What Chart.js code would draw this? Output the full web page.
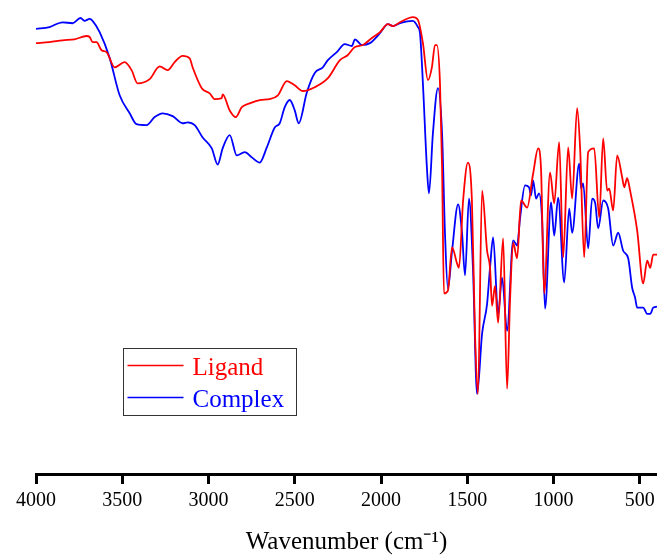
<!DOCTYPE html>
<html>
<head>
<meta charset="utf-8">
<script src="https://cdn.jsdelivr.net/npm/chart.js@4/dist/chart.umd.min.js"></script>
<style>
  html, body { margin: 0; padding: 0; background: #fff; }
  #wrap { width: 657px; height: 558px; position: relative; }
</style>
</head>
<body>
<div id="wrap"><canvas id="myChart"></canvas></div>
<script>
// IR spectra, wavenumber (cm-1) vs transmittance (arbitrary %)
const ligandWn = [4000, 3922, 3846, 3777, 3707, 3689, 3672, 3649, 3620, 3591, 3544, 3486, 3446, 3411, 3341, 3283, 3237, 3196, 3150, 3109, 3092, 3039, 2993, 2964, 2923, 2918, 2877, 2842, 2807, 2761, 2703, 2645, 2598, 2546, 2500, 2453, 2384, 2308, 2238, 2192, 2151, 2105, 2053, 2006, 1960, 1931, 1890, 1815, 1786, 1757, 1728, 1705, 1687, 1676, 1658, 1646, 1635, 1612, 1588, 1559, 1548, 1524, 1496, 1473, 1455, 1438, 1414, 1385, 1368, 1356, 1339, 1321, 1292, 1269, 1252, 1234, 1211, 1188, 1153, 1118, 1089, 1072, 1054, 1020, 996, 967, 944, 915, 892, 863, 846, 822, 799, 764, 735, 712, 689, 677, 654, 631, 602, 590, 573, 556, 515, 480, 457, 439, 422, 400];
const ligandT = [90.9, 91.1, 91.5, 91.7, 92.4, 92.2, 91.1, 91.1, 89.4, 89.0, 85.8, 86.9, 85.2, 82.4, 83.3, 86.0, 85.2, 86.9, 88.2, 87.7, 85.8, 81.4, 80.3, 79.1, 79.3, 80.1, 76.7, 75.3, 77.4, 78.2, 78.9, 79.1, 79.9, 82.9, 82.0, 80.8, 81.6, 83.5, 87.3, 88.4, 90.1, 90.5, 92.0, 93.2, 94.9, 94.5, 95.3, 96.4, 95.8, 90.9, 83.1, 85.8, 90.5, 90.5, 82.4, 64.7, 38.1, 38.7, 47.8, 44.4, 43.5, 57.7, 65.7, 57.7, 29.6, 16.9, 59.8, 47.1, 43.5, 35.5, 39.7, 31.9, 49.7, 18.0, 36.6, 48.8, 45.5, 57.7, 56.2, 63.4, 68.7, 64.1, 38.1, 63.6, 57.1, 70.0, 45.7, 68.9, 58.1, 77.2, 68.9, 45.7, 67.9, 68.7, 54.1, 70.8, 59.8, 60.2, 55.6, 67.2, 62.6, 60.5, 62.4, 59.8, 51.4, 40.2, 45.0, 43.5, 46.3, 46.3];

const complexWn = [4000, 3922, 3846, 3788, 3742, 3719, 3689, 3672, 3631, 3574, 3515, 3457, 3417, 3359, 3312, 3266, 3208, 3150, 3121, 3080, 3034, 2981, 2947, 2918, 2877, 2836, 2790, 2749, 2703, 2662, 2616, 2587, 2558, 2529, 2500, 2477, 2430, 2384, 2337, 2308, 2256, 2210, 2169, 2151, 2111, 2064, 2006, 1960, 1931, 1890, 1815, 1786, 1774, 1757, 1734, 1722, 1699, 1670, 1646, 1629, 1612, 1588, 1553, 1530, 1513, 1490, 1467, 1443, 1414, 1385, 1368, 1350, 1321, 1298, 1269, 1234, 1211, 1194, 1165, 1142, 1130, 1118, 1101, 1084, 1066, 1049, 1014, 996, 973, 938, 909, 892, 851, 840, 828, 799, 776, 758, 741, 712, 683, 654, 625, 596, 567, 544, 527, 515, 480, 457, 439, 422, 400];
const complexT = [93.9, 94.3, 95.3, 95.1, 96.2, 95.6, 96.0, 95.6, 93.2, 87.9, 79.9, 76.1, 73.8, 73.6, 75.3, 76.1, 75.5, 74.0, 74.2, 73.6, 71.0, 68.7, 65.3, 68.7, 71.5, 67.2, 67.9, 66.8, 65.7, 68.9, 73.1, 74.0, 77.4, 78.9, 76.7, 74.0, 80.5, 84.6, 85.8, 87.3, 89.0, 90.7, 90.3, 91.7, 90.5, 90.9, 93.0, 94.9, 94.5, 95.1, 95.6, 94.3, 93.0, 82.4, 64.7, 59.2, 71.9, 81.4, 71.9, 50.7, 39.1, 47.1, 56.9, 50.7, 41.9, 58.1, 43.5, 16.9, 29.6, 35.9, 43.5, 49.9, 33.8, 41.4, 30.2, 49.3, 48.2, 53.9, 60.9, 60.5, 58.8, 61.9, 58.1, 59.2, 53.5, 34.9, 57.3, 50.3, 58.3, 40.4, 56.0, 50.9, 65.5, 60.2, 61.3, 47.6, 58.1, 57.1, 51.8, 57.7, 56.0, 48.2, 50.9, 47.1, 45.5, 39.3, 37.2, 35.1, 35.1, 33.8, 33.8, 35.1, 35.3];

const xTicks = [4000, 3500, 3000, 2500, 2000, 1500, 1000, 500];
const seriesNames = ['Ligand', 'Complex'];
const seriesColors = ['#ff0000', '#0000ff'];
const xTitle = 'Wavenumber (cm\u207B\u00B9)';

const serif = "'Times New Roman', 'Liberation Serif', serif";

const toPoints = (wn, t) => wn.map((w, i) => ({ x: w, y: t[i] }));

const data = {
    datasets: [
        {
            label: seriesNames[0],
            data: toPoints(ligandWn, ligandT),
            borderColor: seriesColors[0],
            backgroundColor: seriesColors[0],
            borderWidth: 1.8,
            pointRadius: 0,
            cubicInterpolationMode: 'monotone'
        },
        {
            label: seriesNames[1],
            data: toPoints(complexWn, complexT),
            borderColor: seriesColors[1],
            backgroundColor: seriesColors[1],
            borderWidth: 1.8,
            pointRadius: 0,
            cubicInterpolationMode: 'monotone'
        }
    ]
};

// legend box drawn inside the plot, like the original figure
const boxLegend = {
    id: 'boxLegend',
    afterDraw(chart) {
        const ctx = chart.ctx;
        const left = 123.5, top = 348.5, w = 173, h = 67;
        ctx.save();
        ctx.strokeStyle = '#333';
        ctx.lineWidth = 1;
        ctx.strokeRect(left, top, w, h);
        ctx.font = '25px ' + serif;
        ctx.textBaseline = 'alphabetic';
        chart.data.datasets.forEach((ds, i) => {
            const y = top + 17 + i * 32;
            ctx.strokeStyle = ds.borderColor;
            ctx.lineWidth = 1.6;
            ctx.beginPath();
            ctx.moveTo(left + 4, y);
            ctx.lineTo(left + 60, y);
            ctx.stroke();
            ctx.fillStyle = ds.borderColor;
            ctx.fillText(ds.label, left + 69, y + 9);
        });
        ctx.restore();
    }
};

const config = {
    type: 'line',
    data: data,
    options: {
        responsive: true,
        maintainAspectRatio: false,
        animation: false,
        layout: { padding: { left: 36, right: 0, top: 0, bottom: 1 } },
        plugins: {
            legend: { display: false },
            tooltip: { enabled: false }
        },
        scales: {
            x: {
                type: 'linear',
                reverse: true,
                min: 400,
                max: 4000,
                afterBuildTicks: (scale) => {
                    scale.ticks = xTicks.map(v => ({ value: v }));
                },
                afterFit: (scale) => {
                    // labels fit inside, no extra side padding wanted
                    scale.paddingLeft = 0;
                    scale.paddingRight = 0;
                },
                border: { display: true, color: '#000', width: 3 },
                grid: {
                    display: true,
                    drawOnChartArea: false,
                    drawTicks: true,
                    tickLength: 10,
                    tickWidth: 3,
                    tickColor: '#000'
                },
                ticks: {
                    autoSkip: false,
                    padding: 5,
                    color: '#000',
                    maxRotation: 0,
                    font: { family: serif, size: 20 },
                    callback: (v) => String(v)
                },
                title: {
                    display: true,
                    text: xTitle,
                    color: '#000',
                    padding: { top: 9, bottom: 0 },
                    font: { family: serif, size: 25 }
                }
            },
            y: {
                display: false,
                min: 0,
                max: 100
            }
        }
    },
    plugins: [boxLegend]
};

let myChart = new Chart(document.getElementById('myChart'), config);
</script>
</body>
</html>
